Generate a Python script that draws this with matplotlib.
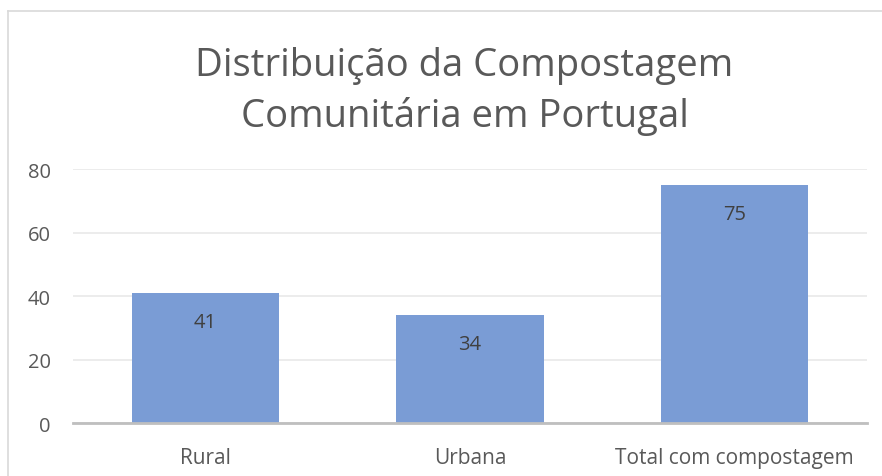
import matplotlib.pyplot as plt
from matplotlib.lines import Line2D
import numpy as np

categories = ["Rural", "Urbana", "Total com compostagem"]
values = [41, 34, 75]
title = "Distribuição da Compostagem\nComunitária em Portugal"

bar_color = "#7A9CD5"
text_gray = "#595959"

plt.rcParams["font.family"] = ["Open Sans", "DejaVu Sans"]

fig = plt.figure(figsize=(8.82, 4.77), dpi=100)
ax = fig.add_axes([0.0828, 0.1111, 0.9002, 0.5325])

x = np.arange(len(categories))
bars = ax.bar(x, values, width=0.556, color=bar_color, zorder=3)
ax.set_xlim(-0.5, len(categories) - 0.5)
ax.set_ylim(0, 80)
ax.set_yticks(np.arange(0, 81, 20))
ax.set_xticks(x)
ax.set_xticklabels(categories)

ax.grid(axis="y", color="#EBEBEB", linewidth=1.3, zorder=0)
for s in ["top", "right", "left"]:
    ax.spines[s].set_visible(False)
ax.spines["bottom"].set_color("#BFBFBF")
ax.spines["bottom"].set_linewidth(2)
ax.spines["bottom"].set_zorder(4)
ax.tick_params(axis="both", length=0, colors=text_gray, labelsize=14.5)
ax.tick_params(axis="x", labelsize=15)
ax.tick_params(axis="y", pad=16)
ax.tick_params(axis="x", pad=17)

# data labels inside the top of each bar
for rect, v in zip(bars, values):
    ax.annotate(str(v), (rect.get_x() + rect.get_width() / 2, v),
                xytext=(0, -21), textcoords="offset points",
                ha="center", va="center", fontsize=14.5, color="#404040", zorder=5)

fig.text(0.5266, 0.808, title, ha="center", va="center",
         fontsize=27.5, color=text_gray, linespacing=1.4)

# chart border (only top and left visible in crop)
fig.add_artist(Line2D([8 / 882, 8 / 882], [0, 1 - 12 / 477], transform=fig.transFigure,
                      color="#D9D9D9", linewidth=1.2))
fig.add_artist(Line2D([8 / 882, 1], [1 - 12 / 477, 1 - 12 / 477], transform=fig.transFigure,
                      color="#D9D9D9", linewidth=1.2))

fig.savefig("out.png", dpi=100)
